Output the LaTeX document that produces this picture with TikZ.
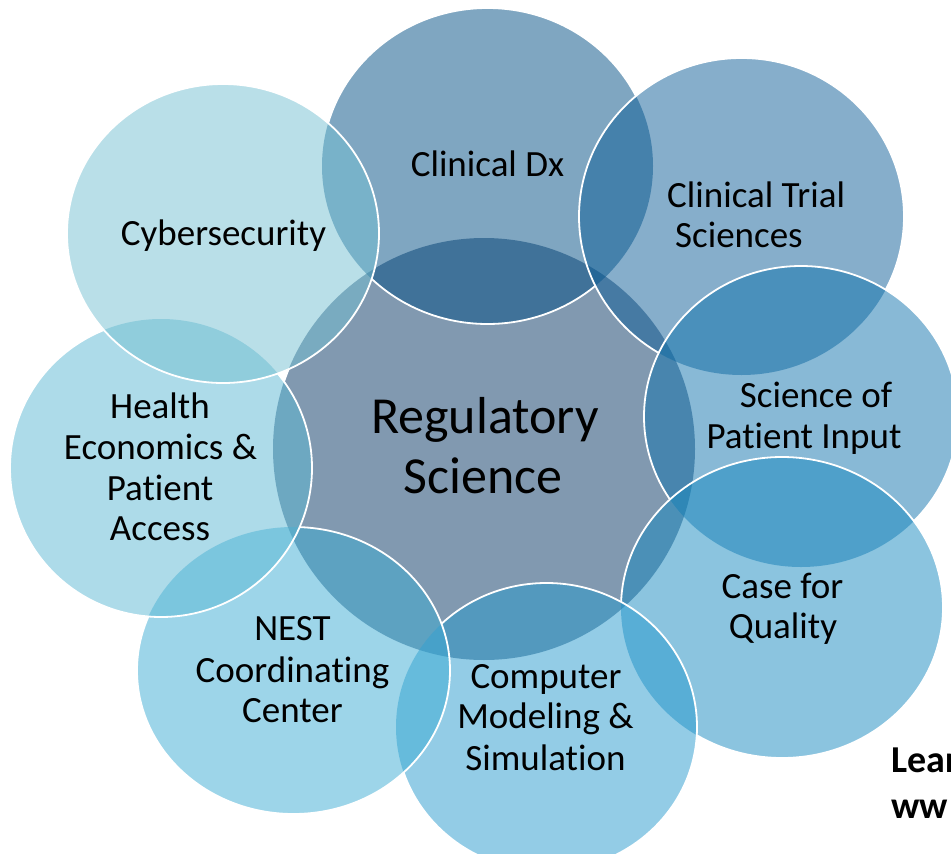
\documentclass[tikz,border=0pt]{standalone}
\usepackage{fontspec}
\newfontfamily\carl[Ligatures=NoCommon]{Carlito}
\definecolor{cz}{RGB}{3,51,97}
\definecolor{ca}{RGB}{0,77,131}
\definecolor{cb}{RGB}{13,93,151}
\definecolor{cc}{RGB}{17,115,173}
\definecolor{cd}{RGB}{23,137,191}
\definecolor{ce}{RGB}{39,153,205}
\definecolor{cf}{RGB}{59,171,211}
\definecolor{cg}{RGB}{91,183,211}
\definecolor{ch}{RGB}{115,191,209}
\def\shpZ{(484,449) ellipse [x radius=211pt, y radius=211pt]}
\def\shpA{(487.5,166) ellipse [x radius=165.5pt, y radius=158pt]}
\def\shpB{(741.5,216.5) ellipse [x radius=162.5pt, y radius=158.5pt]}
\def\shpC{(801,416.5) ellipse [x radius=157pt, y radius=150.5pt]}
\def\shpD{(782,607.5) ellipse [x radius=161pt, y radius=150.5pt]}
\def\shpE{(546.5,727) ellipse [x radius=150.5pt, y radius=144pt]}
\def\shpF{(293.5,670.5) ellipse [x radius=156.5pt, y radius=143.5pt]}
\def\shpG{(161,468) ellipse [x radius=151pt, y radius=149pt]}
\def\shpH{(223,233.5) ellipse [x radius=156pt, y radius=149.5pt]}
\tikzset{
  bub/.style={fill opacity=0.5},
  rim/.style={draw=white, line width=1.8pt},
  lbl/.style={font=\carl\fontsize{37}{41}\selectfont, text=black, inner sep=0pt, anchor=base},
  big/.style={font=\carl\fontsize{52}{60}\selectfont, text=black, inner sep=0pt, anchor=base},
  note/.style={font=\carl\bfseries\fontsize{38}{44}\selectfont, text=black, inner sep=0pt, anchor=base west},
}
\newcommand{\outclip}[1]{\clip (-40,-40) rectangle (1000,900) #1;}
\begin{document}
\begin{tikzpicture}[x=1pt,y=-1pt]
\useasboundingbox (0,0) rectangle (951,854);
\clip (0,0) rectangle (951,854);
% fills, in stacking order
\fill[cz,bub] \shpZ;
\fill[ca,bub] \shpA;
\fill[cb,bub] \shpB;
\fill[cc,bub] \shpC;
\fill[cd,bub] \shpD;
\fill[ce,bub] \shpE;
\fill[cf,bub] \shpF;
\fill[cg,bub] \shpG;
\fill[ch,bub] \shpH;
% outlines, hidden under later circles
\begin{scope}[even odd rule]\outclip{\shpA}\outclip{\shpB}\outclip{\shpC}\outclip{\shpD}\outclip{\shpE}\outclip{\shpF}\outclip{\shpG}\outclip{\shpH}
\path[rim] \shpZ;\end{scope}
\begin{scope}[even odd rule]\outclip{\shpB}\outclip{\shpC}\outclip{\shpD}\outclip{\shpE}\outclip{\shpF}\outclip{\shpG}\outclip{\shpH}
\path[rim] \shpA;\end{scope}
\begin{scope}[even odd rule]\outclip{\shpC}\outclip{\shpD}\outclip{\shpE}\outclip{\shpF}\outclip{\shpG}\outclip{\shpH}
\path[rim] \shpB;\end{scope}
\begin{scope}[even odd rule]\outclip{\shpD}\outclip{\shpE}\outclip{\shpF}\outclip{\shpG}\outclip{\shpH}
\path[rim] \shpC;\end{scope}
\begin{scope}[even odd rule]\outclip{\shpE}\outclip{\shpF}\outclip{\shpG}\outclip{\shpH}
\path[rim] \shpD;\end{scope}
\begin{scope}[even odd rule]\outclip{\shpF}\outclip{\shpG}\outclip{\shpH}
\path[rim] \shpE;\end{scope}
\begin{scope}[even odd rule]\outclip{\shpG}\outclip{\shpH}
\path[rim] \shpF;\end{scope}
\begin{scope}[even odd rule]\outclip{\shpH}
\path[rim] \shpG;\end{scope}
\path[rim] \shpH;
% labels
\node[big] (reg1) at (485,433) {Regulatory};
\node[big] (reg2) at (483,493) {Science};
\node[lbl] (dx) at (487.5,176) {Clinical Dx};
\node[lbl,anchor=base west] (ct1) at (667,207) {Clinical Trial};
\node[lbl,anchor=base west] (ct2) at (675,247) {Sciences};
\node[lbl] (cyb) at (223.5,245) {Cybersecurity};
\node[lbl] (he1) at (160,418) {Health};
\node[lbl] (he2) at (160.5,459) {Economics \&};
\node[lbl] (he3) at (160,500) {Patient};
\node[lbl] (he4) at (160,540) {Access};
\node[lbl] (ne1) at (292.5,640) {NEST};
\node[lbl] (ne2) at (292.5,682) {Coordinating};
\node[lbl] (ne3) at (292.5,722) {Center};
\node[lbl] (cm1) at (546,688) {Computer};
\node[lbl] (cm2) at (545.5,728) {Modeling \&};
\node[lbl] (cm3) at (545.5,770) {Simulation};
\node[lbl] (cq1) at (782.5,598) {Case for};
\node[lbl] (cq2) at (783,638) {Quality};
\node[lbl] (sp1) at (816,407) {Science of};
\node[lbl] (sp2) at (804,448) {Patient Input};
\node[note] (lr1) at (891,772) {Lear};
\node[note] (lr2) at (891,818) {ww};
\end{tikzpicture}
\end{document}
